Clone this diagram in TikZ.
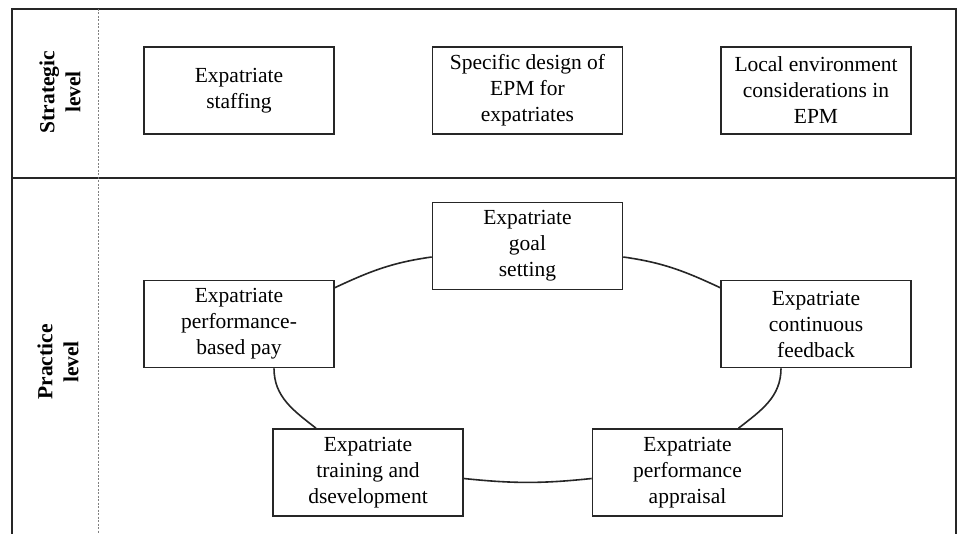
\documentclass[tikz,border=0pt]{standalone}
\usepackage{fontspec}
\setmainfont{Liberation Serif}
\definecolor{linegray}{HTML}{262626}
\begin{document}
\begin{tikzpicture}[x=1pt,y=-1pt,
  box/.style={draw=linegray, line width=1.6pt, minimum width=190pt, minimum height=87pt, inner sep=0pt, align=center, font=\fontsize{21.5}{26}\selectfont, text=black},
  lvl/.style={rotate=90, align=center, font=\bfseries\fontsize{21.5}{26}\selectfont, text=black},
  link/.style={draw=linegray, line width=1.6pt},
  framel/.style={draw=linegray, line width=2.2pt},
  sep/.style={draw=gray, line width=0.9pt, dash pattern=on 2pt off 1.5pt}]
\useasboundingbox[fill=white] (0,0) rectangle (958,534);
% frame
\draw[framel] (12,534) -- (12,9) -- (956,9) -- (956,534);
\draw[framel] (12,178) -- (956,178);
\draw[sep] (98,9) -- (98,534);
% level labels
\node[lvl] (strat) at (60,92) {Strategic\\level};
\node[lvl] (prac) at (58,362) {Practice\\level};
% strategic boxes
\node[box] (staffing) at (239,90.5) {Expatriate\\staffing};
\node[box] (design) at (527.5,90.5) {Specific design of\\EPM for\\expatriates};
\node[box] (local) at (816,90.5) {Local environment\\considerations in\\EPM};
% practice boxes
\node[box] (goal) at (527.5,246) {Expatriate\\goal\\setting};
\node[box] (feedback) at (816,324) {Expatriate\\continuous\\feedback};
\node[box] (pay) at (239,324) {Expatriate\\performance-\\based pay};
\node[box] (training) at (368,472.5) {Expatriate\\training and\\dsevelopment};
\node[box] (appraisal) at (687.5,472.5) {Expatriate\\performance\\appraisal};
% cycle connectors
\draw[link] ([yshift=-11pt]goal.west) to[out=188,in=25] ([yshift=-8pt]pay.north east);
\draw[link] ([yshift=-11pt]goal.east) to[out=-8,in=155] ([yshift=-8pt]feedback.north west);
\draw[link] ([xshift=-35pt]feedback.south) to[out=-90,in=38] ([xshift=51pt]appraisal.north);
\draw[link] ([yshift=-6pt]appraisal.west) to[bend left=6] ([yshift=-6pt]training.east);
\draw[link] ([xshift=-52pt]training.north) to[out=142,in=-90] ([xshift=35pt]pay.south);
\end{tikzpicture}
\end{document}
